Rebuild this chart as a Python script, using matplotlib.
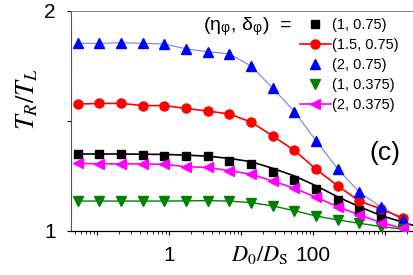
import matplotlib
matplotlib.use("Agg")
import matplotlib.pyplot as plt
from matplotlib.lines import Line2D
from matplotlib.ticker import FixedLocator, FixedFormatter, LogLocator, NullFormatter

plt.rcParams['font.family'] = ['Liberation Sans', 'DejaVu Sans']
plt.rcParams['mathtext.fontset'] = 'stix'

# D0/Ds values of the markers
ratio = [0.054, 0.108, 0.216, 0.432, 0.864, 1.73, 3.46, 6.91,
         13.8, 27.6, 55.3, 111, 221, 442, 885, 1770]

t_1_075 = [1.350, 1.349, 1.349, 1.345, 1.342, 1.341, 1.339, 1.320,
           1.303, 1.267, 1.232, 1.191, 1.141, 1.095, 1.065, 1.036]
t_15_075 = [1.577, 1.580, 1.580, 1.570, 1.570, 1.557, 1.545, 1.532,
            1.495, 1.432, 1.366, 1.280, 1.205, 1.136, 1.100, 1.059]
t_2_075 = [1.853, 1.853, 1.856, 1.853, 1.850, 1.828, 1.815, 1.805,
           1.750, 1.649, 1.543, 1.409, 1.282, 1.176, 1.108, 1.050]
t_1_0375 = [1.136, 1.136, 1.136, 1.136, 1.136, 1.137, 1.138, 1.136,
            1.129, 1.114, 1.092, 1.068, 1.050, 1.035, 1.020, 1.009]
t_2_0375 = [1.308, 1.305, 1.305, 1.305, 1.303, 1.292, 1.289, 1.274,
            1.258, 1.227, 1.194, 1.153, 1.110, 1.073, 1.038, 1.012]

# smooth curve drawn with the (1, 0.75) points
fit_x = ratio + [2500]
fit_1_075 = [1.350, 1.350, 1.350, 1.349, 1.348, 1.345, 1.340, 1.330,
             1.315, 1.285, 1.250, 1.205, 1.155, 1.110, 1.070, 1.040, 1.025]

labels = ['(1, 0.75)', '(1.5, 0.75)', '(2, 0.75)', '(1, 0.375)', '(2, 0.375)']

fig = plt.figure(figsize=(4.14, 2.75), dpi=100)
ax = fig.add_axes([71 / 414, 44 / 275, 343 / 414, 220 / 275])

ax.plot(ratio, t_2_075, color='#7080ff', lw=0.8, zorder=2)
ax.plot(ratio, t_1_0375, color='#008000', lw=1.0, zorder=2)
ax.plot(fit_x, fit_1_075, color='black', lw=1.2, zorder=2)
ax.plot(ratio, t_15_075, color='red', lw=1.2, zorder=2)
ax.plot(ratio, t_2_0375, color='magenta', lw=1.2, zorder=2)

ax.plot(ratio, t_1_075, 's', color='black', ms=5.5, ls='none', zorder=3)
ax.plot(ratio, t_15_075, 'o', color='red', ms=6.5, ls='none', zorder=3)
ax.plot(ratio, t_2_075, '^', color='blue', ms=7.5, ls='none', zorder=3)
ax.plot(ratio, t_1_0375, 'v', color='#008000', ms=7.5, ls='none', zorder=3)
ax.plot(ratio, t_2_0375, '<', color='magenta', ms=7.5, ls='none', zorder=3)

ax.set_xscale('log')
ax.set_xlim(0.0435, 2530)
ax.set_ylim(1, 2)

ax.xaxis.set_major_locator(FixedLocator([0.1, 1, 10, 100, 1000]))
ax.xaxis.set_major_formatter(FixedFormatter(['', '1', '', '100', '']))
ax.xaxis.set_minor_locator(LogLocator(base=10, subs=range(2, 10), numticks=20))
ax.xaxis.set_minor_formatter(NullFormatter())
ax.yaxis.set_major_locator(FixedLocator([1, 1.5, 2]))
ax.yaxis.set_major_formatter(FixedFormatter(['1', '', '2']))

ax.tick_params(axis='both', which='major', direction='out', length=3, width=0.8,
               labelsize=15)
ax.tick_params(axis='x', which='major', pad=8)
ax.tick_params(axis='y', which='major', pad=8)
ax.tick_params(axis='x', which='minor', direction='out', length=2, width=0.6)

ax.spines['right'].set_visible(False)
ax.spines['top'].set_color('#888888')
ax.spines['top'].set_linewidth(0.7)
ax.spines['left'].set_color('#555555')
ax.spines['bottom'].set_linewidth(0.9)

ax.set_xlabel(r'$D_0/D_\mathrm{S}$', fontsize=16)
ax.xaxis.set_label_coords(0.55, -0.06)
ax.set_ylabel(r'$T_R/T_L$', fontsize=19)
ax.yaxis.set_label_coords(-0.09, 0.6)

ax.text(0.915, 0.355, '(c)', transform=ax.transAxes, fontsize=19,
        ha='center', va='center')

ax.text(203 / 414, 1 - 27 / 275, r'(η$_\mathregular{φ}$, δ$_\mathregular{φ}$)  =',
        transform=fig.transFigure, fontsize=14, ha='left', va='center')

handles = [
    Line2D([], [], marker='s', color='black', ls='none', ms=5.5),
    Line2D([], [], marker='o', color='red', ls='-', lw=1.2, ms=6.5),
    Line2D([], [], marker='^', color='blue', ls='none', ms=7.5),
    Line2D([], [], marker='v', color='#008000', ls='none', ms=7.5),
    Line2D([], [], marker='<', color='magenta', ls='-', lw=1.2, ms=7.5),
]
ax.legend(handles, labels, loc='upper left', bbox_to_anchor=(300 / 414, 1 - 18 / 275),
          bbox_transform=fig.transFigure, frameon=False, fontsize=10.5,
          handlelength=2.1, handletextpad=0.1, labelspacing=0.42,
          borderpad=0, borderaxespad=0)

fig.savefig('out.png', dpi=100)
